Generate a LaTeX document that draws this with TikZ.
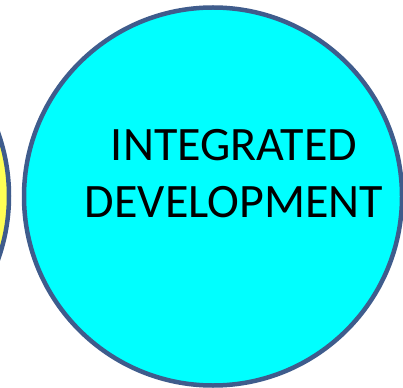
\documentclass[tikz,border=0pt]{standalone}
\usepackage{fontspec}
\setmainfont{Carlito}
\usetikzlibrary{positioning}
\definecolor{rimblue}{HTML}{3F5C8C}
\definecolor{discyan}{HTML}{00FFFF}
\definecolor{discyellow}{HTML}{FFFF55}
\tikzset{
    %Define style for discs
    disc/.style={
           circle,
           draw=rimblue, line width=4.5pt,
           minimum size=378pt,
           inner sep=0pt},
    % Define style for the disc text
    disctext/.style={
           align=center,
           font=\fontsize{48}{57}\selectfont}
}
\begin{document}
\begin{tikzpicture}[x=1pt,y=1pt]
 \useasboundingbox (0,0) rectangle (403,-387);
 %nodes
    \node[disc, fill=discyellow] (prev) at (-180,-196) {};
    \node[disc, fill=discyan] (devt) at (213,-196.5) {};
    \node[disctext] (devtext) at ([shift={(21,23)}]devt.center) {INTEGRATED\\DEVELOPMENT};
\end{tikzpicture}
\end{document}
